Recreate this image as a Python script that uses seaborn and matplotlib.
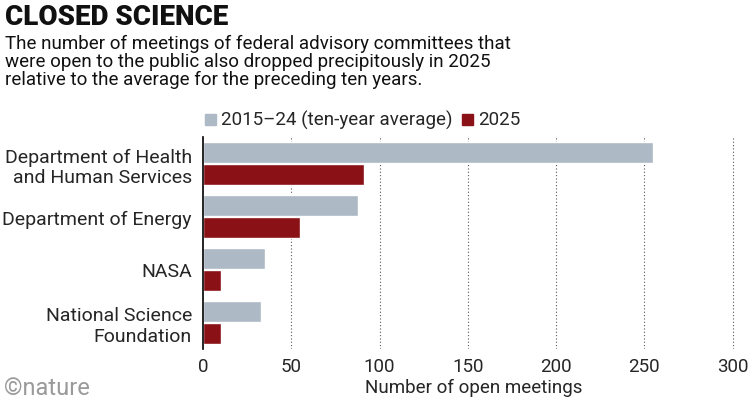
import matplotlib
matplotlib.use("Agg")
import matplotlib.pyplot as plt
import seaborn as sns
import pandas as pd

categories = ["Department of Health\nand Human Services", "Department of Energy", "NASA", "National Science\nFoundation"]
avg_2015_24 = [255, 88, 35, 33]
val_2025 = [91, 55, 10, 10]
series = ["2015–24 (ten-year average)", "2025"]
xticks = [0, 50, 100, 150, 200, 250, 300]

sns.set_theme(style="white")
plt.rcParams['font.family'] = ['Roboto', 'DejaVu Sans']

df = pd.DataFrame({
    "cat": categories * 2,
    "series": [series[0]] * 4 + [series[1]] * 4,
    "val": avg_2015_24 + val_2025,
})

fig = plt.figure(figsize=(7.51, 4.14), dpi=100)
ax = fig.add_axes([203/751, 1-350/414, (745-203)/751, (350-138)/414])
sns.barplot(data=df, y="cat", x="val", hue="series", orient="h", saturation=1,
            palette=["#adb9c4", "#8a1116"], width=0.84, gap=0.08, ax=ax, legend=False)
ax.set_xlim(0, 307)
ax.set_xticks(xticks)
ax.set_xticklabels([str(t) for t in xticks], fontsize=13.5)
ax.tick_params(axis='x', length=0, pad=6)
ax.tick_params(axis='y', length=0, pad=8, labelsize=14)
for lbl in ax.get_yticklabels():
    lbl.set_horizontalalignment('right')
    lbl.set_multialignment('right')
ax.set_ylabel("")
ax.set_xlabel("Number of open meetings", fontsize=13.5, labelpad=2)
for s in ["top", "right", "bottom"]:
    ax.spines[s].set_visible(False)
ax.spines["left"].set_color("black")
ax.spines["left"].set_linewidth(1.2)
for t in xticks[1:]:
    ax.axvline(t, color="#555555", linestyle=(0, (1, 2)), linewidth=0.8, zorder=0)

fig.text(0.007, 0.99, "CLOSED SCIENCE", fontsize=20, fontweight="black", va="top", color="#111111")
fig.text(0.007, 0.915, "The number of meetings of federal advisory committees that\nwere open to the public also dropped precipitously in 2025\nrelative to the average for the preceding ten years.",
         fontsize=13.5, va="top", linespacing=1.0, color="#111111")
fig.patches.append(matplotlib.patches.Rectangle((205/751, 1-126/414), 11/751, 11/414, color="#adb9c4", transform=fig.transFigure))
fig.text(221/751, 1-120/414, series[0], fontsize=13.5, va="center")
fig.patches.append(matplotlib.patches.Rectangle((462/751, 1-126/414), 11/751, 11/414, color="#8a1116", transform=fig.transFigure))
fig.text(478/751, 1-120/414, series[1], fontsize=13.5, va="center")
fig.text(0.005, 0.035, "©nature", fontsize=17, color="#9a9a9a", va="bottom")
fig.savefig("out.png", dpi=100)
